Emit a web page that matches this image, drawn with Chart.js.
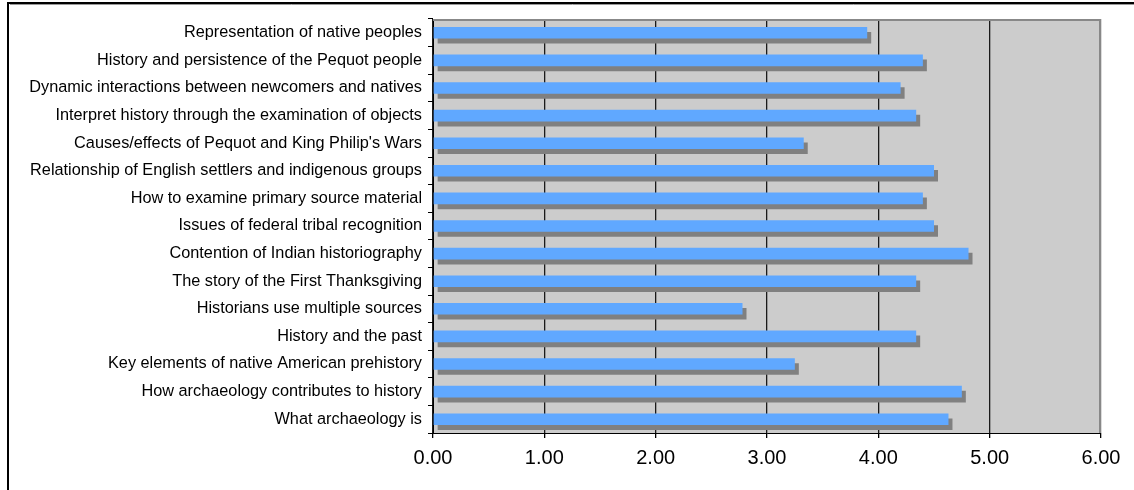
<!DOCTYPE html>
<html>
<head>
<meta charset="utf-8">
<script src="https://cdn.jsdelivr.net/npm/chart.js@4/dist/chart.umd.min.js"></script>
<style>
  html, body { margin: 0; padding: 0; background: #fff; }
  #wrap { position: relative; width: 1134px; height: 490px; }
</style>
</head>
<body>
<div id="wrap"><canvas id="topics"></canvas></div>
<script>
// survey topics, listed top to bottom
const topics = [
  'Representation of native peoples',
  'History and persistence of the Pequot people',
  'Dynamic interactions between newcomers and natives',
  'Interpret history through the examination of objects',
  "Causes/effects of Pequot and King Philip's Wars",
  'Relationship of English settlers and indigenous groups',
  'How to examine primary source material',
  'Issues of federal tribal recognition',
  'Contention of Indian historiography',
  'The story of the First Thanksgiving',
  'Historians use multiple sources',
  'History and the past',
  'Key elements of native American prehistory',
  'How archaeology contributes to history',
  'What archaeology is'
];

// mean rating per topic
const ratings = [3.90, 4.40, 4.20, 4.34, 3.33, 4.50, 4.40, 4.50, 4.81, 4.34, 2.78, 4.34, 3.25, 4.75, 4.63];

const axisTicks = [0, 1, 2, 3, 4, 5, 6];

const PLOT_LEFT = 433, PLOT_TOP = 19, PLOT_RIGHT = 1101, PLOT_BOTTOM = 433;

// grey plot area, frame lines and the solid drop shadow under each bar
const frame = {
  id: 'frame',
  beforeDraw(chart) {
    const { ctx, chartArea: a } = chart;
    ctx.save();
    ctx.fillStyle = '#cccccc';
    ctx.fillRect(a.left, a.top, a.right - a.left, a.bottom - a.top);
    // outer border (runs off the right and bottom of the canvas)
    ctx.strokeStyle = '#000';
    ctx.lineWidth = 2;
    ctx.beginPath();
    ctx.moveTo(8, 2000);
    ctx.lineTo(8, 3);
    ctx.lineTo(2000, 3);
    ctx.stroke();
    ctx.strokeStyle = '#999';
    ctx.lineWidth = 1;
    ctx.beginPath();
    ctx.moveTo(10, 4.5);
    ctx.lineTo(2000, 4.5);
    ctx.stroke();
    ctx.restore();
  },
  beforeDatasetsDraw(chart) {
    const ctx = chart.ctx;
    ctx.save();
    ctx.shadowColor = '#808080';
    ctx.shadowBlur = 0;
    ctx.shadowOffsetX = 4;
    ctx.shadowOffsetY = 5;
  },
  afterDatasetsDraw(chart) {
    const { ctx, chartArea: a } = chart;
    ctx.restore();
    ctx.save();
    ctx.strokeStyle = '#888';
    ctx.lineWidth = 2;
    ctx.beginPath();
    ctx.moveTo(a.left, a.top + 1);
    ctx.lineTo(a.right - 1, a.top + 1);
    ctx.lineTo(a.right - 1, a.bottom);
    ctx.stroke();
    ctx.restore();
  }
};

new Chart(document.getElementById('topics'), {
  type: 'bar',
  data: {
    labels: topics,
    datasets: [{
      data: ratings,
      backgroundColor: '#60a8ff',
      borderWidth: 0,
      barPercentage: 0.84,
      categoryPercentage: 0.5
    }]
  },
  options: {
    indexAxis: 'y',
    responsive: true,
    maintainAspectRatio: false,
    animation: false,
    layout: { padding: { left: 0, top: PLOT_TOP, right: 1134 - PLOT_RIGHT, bottom: 0 } },
    plugins: {
      legend: { display: false },
      tooltip: { enabled: false }
    },
    scales: {
      x: {
        min: 0,
        max: 6,
        afterBuildTicks(scale) { scale.ticks = axisTicks.map(v => ({ value: v })); },
        afterFit(scale) { scale.height = 490 - PLOT_BOTTOM; },
        border: { display: true, color: '#000', width: 1 },
        grid: {
          color: c => (c.tick && c.tick.value === 6 ? '#888' : '#1a1a1a'),
          tickColor: '#000',
          lineWidth: 1.3,
          tickLength: 5,
          drawOnChartArea: true
        },
        ticks: {
          color: '#000',
          font: { family: 'Liberation Sans, Arial, sans-serif', size: 20 },
          padding: 8,
          maxRotation: 0,
          callback: v => Number(v).toFixed(2)
        }
      },
      y: {
        afterFit(scale) { scale.width = PLOT_LEFT; },
        border: { display: true, color: '#000', width: 1 },
        grid: {
          offset: true,
          drawOnChartArea: false,
          tickColor: '#000',
          tickLength: 5
        },
        ticks: {
          color: '#000',
          font: { family: 'Liberation Sans, Arial, sans-serif', size: 16.3 },
          padding: 6,
          autoSkip: false
        }
      }
    }
  },
  plugins: [frame]
});
</script>
</body>
</html>
